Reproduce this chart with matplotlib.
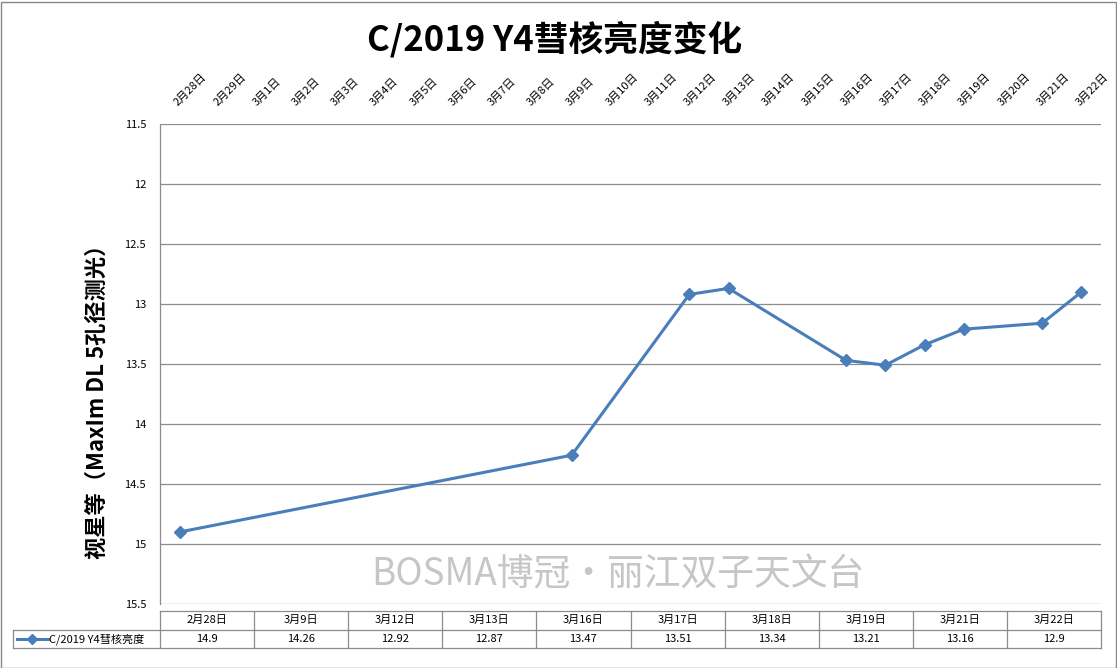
import matplotlib.pyplot as plt
from matplotlib.patches import Rectangle
import pandas as pd

plt.rcParams['font.family'] = ['Noto Sans CJK SC', 'DejaVu Sans']

# observation data
obs_dates = ['2020-02-28', '2020-03-09', '2020-03-12', '2020-03-13', '2020-03-16',
             '2020-03-17', '2020-03-18', '2020-03-19', '2020-03-21', '2020-03-22']
table_labels = ['2月28日', '3月9日', '3月12日', '3月13日', '3月16日',
                '3月17日', '3月18日', '3月19日', '3月21日', '3月22日']
mags = [14.9, 14.26, 12.92, 12.87, 13.47, 13.51, 13.34, 13.21, 13.16, 12.9]
series_name = 'C/2019 Y4彗核亮度'

# date axis 2/28 .. 3/22
axis_dates = pd.date_range('2020-02-28', '2020-03-22', freq='D')
axis_labels = [f'{d.month}月{d.day}日' for d in axis_dates]
start = axis_dates[0]
xs = [(pd.Timestamp(d) - start).days for d in obs_dates]

yticks = [11.5, 12, 12.5, 13, 13.5, 14, 14.5, 15, 15.5]
ytick_labels = ['11.5', '12', '12.5', '13', '13.5', '14', '14.5', '15', '15.5']

blue = '#4a7ebb'
grid = '#8c8c8c'

W, H = 1117, 668
fig = plt.figure(figsize=(W / 100, H / 100), dpi=100)

def px_rect(x0, y0, x1, y1):
    return [x0 / W, 1 - y1 / H, (x1 - x0) / W, (y1 - y0) / H]

ax = fig.add_axes(px_rect(160, 124, 1101, 604))
ax.plot(xs, mags, color=blue, lw=2.2, marker='D', ms=6, mec=blue, mfc=blue)
ax.set_xlim(-0.5, len(axis_dates) - 0.5)
ax.set_ylim(15.5, 11.5)
ax.set_yticks(yticks)
ax.set_yticklabels(ytick_labels, fontsize=8)
for y in yticks:
    ax.axhline(y, color=grid, lw=0.9, zorder=0)
for s in ['top', 'right', 'bottom']:
    ax.spines[s].set_visible(False)
ax.spines['left'].set_color(grid)
ax.spines['left'].set_linewidth(0.9)
ax.tick_params(axis='y', length=0, pad=10)

ax.xaxis.tick_top()
ax.set_xticks(range(len(axis_dates)))
ax.set_xticklabels(axis_labels, fontsize=8, rotation=45, ha='left', va='bottom',
                   rotation_mode='anchor')
ax.tick_params(axis='x', length=0, pad=12)

# title and y label
fig.text(555 / W, 1 - 39 / H, 'C/2019 Y4彗核亮度变化', fontsize=25, fontweight='bold',
         ha='center', va='center')
fig.text(97 / W, 1 - 396 / H, '视星等（MaxIm DL 5孔径测光）', fontsize=16, fontweight='bold',
         rotation=90, ha='center', va='center')

# watermark
fig.text(618 / W, 1 - 575 / H, 'BOSMA博冠·丽江双子天文台', fontsize=26.5, color='#c6c6c6',
         ha='center', va='center', zorder=0)

# data table
tax = fig.add_axes(px_rect(160, 611, 1101, 648))
tax.set_xlim(0, len(table_labels))
tax.set_ylim(0, 2)
tax.axis('off')
n = len(table_labels)
lw = 0.9
leg_left = -(160 - 13) / 94.1
tax.plot([0, n], [2, 2], color=grid, lw=lw, clip_on=False)
tax.plot([leg_left, n], [1, 1], color=grid, lw=lw, clip_on=False)
tax.plot([leg_left, n], [0, 0], color=grid, lw=lw, clip_on=False)
tax.plot([leg_left, leg_left], [0, 1], color=grid, lw=lw, clip_on=False)
for i in range(n + 1):
    tax.plot([i, i], [0, 2], color=grid, lw=lw, clip_on=False)
for i, (lab, m) in enumerate(zip(table_labels, mags)):
    tax.text(i + 0.5, 1.5, lab, fontsize=8, ha='center', va='center')
    tax.text(i + 0.5, 0.5, f'{m:g}', fontsize=8, ha='center', va='center')
ls0 = (17 - 160) / 94.1
ls1 = (48 - 160) / 94.1
tax.plot([ls0, ls1], [0.5, 0.5], color=blue, lw=2.2, clip_on=False)
tax.plot([(ls0 + ls1) / 2], [0.5], marker='D', ms=5, color=blue, clip_on=False)
tax.text(ls1 + 0.01, 0.5, series_name, fontsize=8, ha='left', va='center')

# chart border
fig.add_artist(Rectangle((0.5 / W, 0.5 / H), 1 - 2 / W, 1 - 2 / H, transform=fig.transFigure,
                         fill=False, ec='#888888', lw=1))

fig.savefig('out.png', dpi=100)
